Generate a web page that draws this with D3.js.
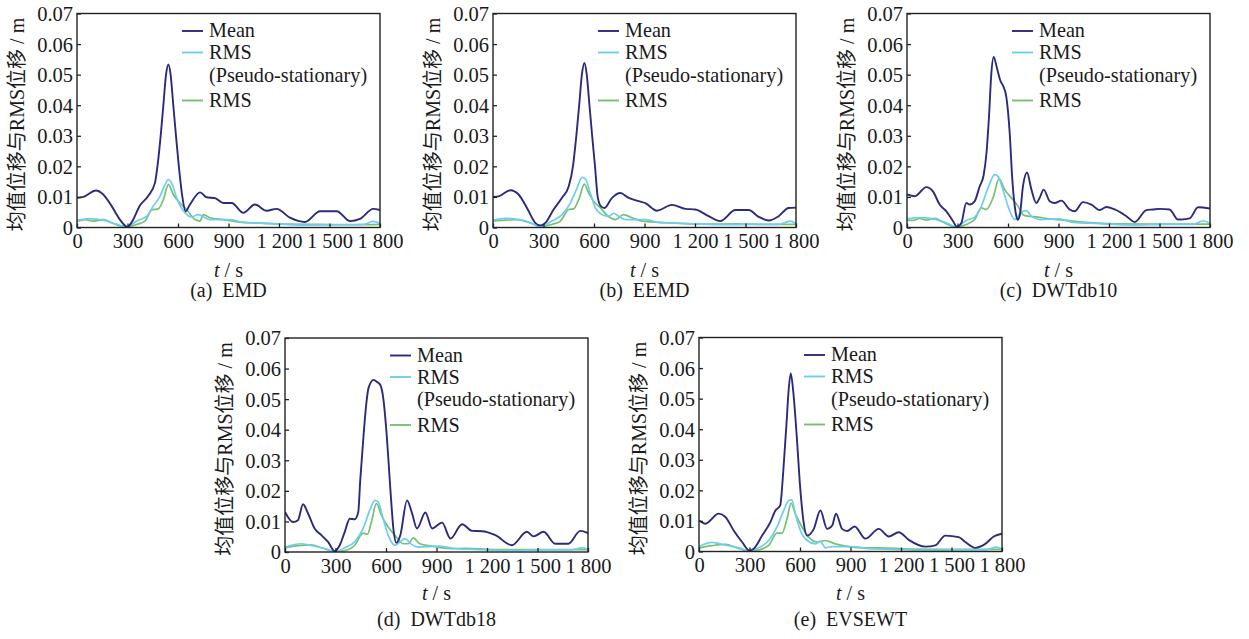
<!DOCTYPE html>
<html><head><meta charset="utf-8">
<script src="https://cdn.jsdelivr.net/npm/d3@7"></script>
<style>
html,body{margin:0;padding:0;background:#fff;}
svg{display:block;}
text{font-family:"Liberation Serif","Noto Sans CJK SC",serif;fill:#1a1a1a;}
</style></head>
<body>
<svg id="chart" width="1249" height="639"></svg>
<script>
// ---------- data ----------
const seriesNames = ["Mean", "RMS", "(Pseudo-stationary)", "RMS"];
const xTickValues = [0, 300, 600, 900, 1200, 1500, 1800];
const xTickLabels = ["0", "300", "600", "900", "1 200", "1 500", "1 800"];
const yTickValues = [0, 0.01, 0.02, 0.03, 0.04, 0.05, 0.06, 0.07];
const yTickLabels = ["0", "0.01", "0.02", "0.03", "0.04", "0.05", "0.06", "0.07"];
const captions = ["(a)  EMD", "(b)  EEMD", "(c)  DWTdb10", "(d)  DWTdb18", "(e)  EVSEWT"];

const emdMean = [[0,0.0097],[38,0.0100],[113,0.0121],[156,0.0108],[206,0.0070],[255,0.0026],[299,0.0002],[325,0.0017],[374,0.0072],[424,0.0104],[463,0.0146],[480,0.0210],[497,0.0300],[513,0.0400],[529,0.0500],[543,0.0533],[556,0.0500],[572,0.0400],[588,0.0300],[605,0.0200],[626,0.0100],[645,0.0053],[671,0.0075],[731,0.0115],[770,0.0099],[820,0.0096],[869,0.0080],[919,0.0080],[988,0.0048],[1057,0.0075],[1127,0.0055],[1186,0.0061],[1265,0.0032],[1354,0.0018],[1444,0.0053],[1543,0.0053],[1622,0.0021],[1681,0.0028],[1760,0.0061],[1800,0.0057]];
const emdRmsPs = [[0,0.0023],[77,0.0029],[156,0.0024],[236,0.0010],[299,0.0002],[354,0.0021],[414,0.0037],[453,0.0070],[493,0.0102],[523,0.0140],[543,0.0157],[562,0.0146],[592,0.0097],[642,0.0048],[681,0.0035],[721,0.0042],[750,0.0035],[790,0.0026],[909,0.0026],[988,0.0017],[1147,0.0013],[1345,0.0008],[1543,0.0009],[1701,0.0010],[1760,0.0020],[1800,0.0013]];
const emdRms = [[0,0.0020],[48,0.0026],[97,0.0021],[156,0.0026],[216,0.0013],[295,0.0002],[354,0.0010],[404,0.0021],[444,0.0057],[483,0.0061],[513,0.0091],[543,0.0140],[572,0.0108],[612,0.0080],[651,0.0059],[701,0.0026],[731,0.0021],[750,0.0042],[790,0.0032],[869,0.0026],[988,0.0017],[1067,0.0015],[1245,0.0011],[1444,0.0010],[1642,0.0009],[1800,0.0010]];

const eemdMean = [[0,0.0100],[34,0.0102],[103,0.0122],[152,0.0108],[202,0.0064],[251,0.0015],[281,0.0007],[311,0.0015],[360,0.0059],[410,0.0097],[450,0.0135],[475,0.0200],[495,0.0300],[512,0.0400],[528,0.0500],[543,0.0538],[557,0.0500],[573,0.0400],[589,0.0300],[606,0.0200],[622,0.0100],[640,0.0070],[662,0.0064],[707,0.0097],[756,0.0113],[806,0.0097],[865,0.0086],[905,0.0080],[974,0.0055],[1063,0.0074],[1143,0.0061],[1202,0.0059],[1281,0.0037],[1350,0.0021],[1440,0.0057],[1519,0.0057],[1578,0.0035],[1638,0.0023],[1697,0.0037],[1756,0.0064],[1800,0.0065]];
const eemdRmsPs = [[0,0.0024],[73,0.0030],[152,0.0026],[232,0.0013],[281,0.0002],[350,0.0021],[410,0.0042],[459,0.0080],[499,0.0129],[529,0.0164],[549,0.0159],[578,0.0113],[608,0.0064],[648,0.0042],[687,0.0037],[717,0.0046],[747,0.0037],[786,0.0026],[905,0.0026],[984,0.0017],[1143,0.0013],[1341,0.0009],[1539,0.0010],[1697,0.0010],[1766,0.0021],[1800,0.0013]];
const eemdRms = [[0,0.0021],[73,0.0024],[152,0.0026],[212,0.0017],[281,0.0004],[350,0.0010],[400,0.0021],[450,0.0059],[479,0.0061],[509,0.0091],[543,0.0142],[568,0.0113],[598,0.0086],[638,0.0064],[687,0.0035],[727,0.0026],[776,0.0042],[826,0.0032],[885,0.0021],[984,0.0017],[1063,0.0015],[1242,0.0011],[1440,0.0012],[1638,0.0010],[1800,0.0010]];

const db10Mean = [[0,0.0108],[46,0.0102],[115,0.0132],[154,0.0118],[194,0.0075],[234,0.0053],[273,0.0021],[297,0.0002],[323,0.0015],[352,0.0080],[372,0.0075],[402,0.0086],[432,0.0135],[455,0.0170],[472,0.0243],[487,0.0362],[501,0.0504],[515,0.0558],[535,0.0520],[555,0.0480],[572,0.0462],[590,0.0427],[610,0.0310],[626,0.0154],[645,0.0050],[657,0.0025],[670,0.0040],[689,0.0135],[713,0.0180],[739,0.0124],[768,0.0080],[788,0.0097],[812,0.0124],[848,0.0086],[877,0.0080],[917,0.0088],[966,0.0059],[996,0.0053],[1046,0.0083],[1095,0.0075],[1145,0.0057],[1184,0.0067],[1234,0.0059],[1303,0.0037],[1353,0.0018],[1422,0.0057],[1461,0.0059],[1501,0.0061],[1560,0.0059],[1610,0.0026],[1679,0.0030],[1729,0.0066],[1800,0.0062]];
const db10RmsPs = [[0,0.0028],[75,0.0032],[154,0.0028],[234,0.0015],[293,0.0002],[352,0.0023],[402,0.0034],[442,0.0070],[481,0.0129],[521,0.0173],[541,0.0167],[570,0.0124],[600,0.0070],[640,0.0026],[679,0.0050],[709,0.0055],[739,0.0037],[788,0.0026],[907,0.0028],[986,0.0017],[1145,0.0013],[1343,0.0008],[1541,0.0010],[1699,0.0010],[1762,0.0022],[1800,0.0013]];
const db10Rms = [[0,0.0023],[36,0.0023],[75,0.0030],[115,0.0024],[164,0.0030],[214,0.0017],[293,0.0002],[352,0.0010],[402,0.0026],[442,0.0064],[471,0.0059],[511,0.0097],[547,0.0159],[580,0.0124],[620,0.0097],[659,0.0070],[689,0.0042],[719,0.0037],[768,0.0035],[848,0.0028],[986,0.0021],[1065,0.0017],[1244,0.0012],[1442,0.0011],[1640,0.0011],[1800,0.0011]];

const db18Mean = [[0,0.0131],[48,0.0098],[77,0.0104],[107,0.0156],[137,0.0126],[176,0.0077],[216,0.0055],[256,0.0033],[295,0.0003],[325,0.0022],[355,0.0066],[385,0.0109],[414,0.0107],[435,0.0130],[447,0.0235],[466,0.0377],[482,0.0480],[496,0.0536],[526,0.0563],[550,0.0555],[566,0.0547],[585,0.0498],[605,0.0377],[625,0.0213],[645,0.0071],[662,0.0030],[685,0.0055],[725,0.0169],[755,0.0126],[784,0.0077],[834,0.0129],[874,0.0077],[933,0.0096],[983,0.0044],[1052,0.0091],[1111,0.0069],[1171,0.0068],[1250,0.0055],[1348,0.0022],[1437,0.0066],[1477,0.0051],[1536,0.0066],[1605,0.0027],[1684,0.0027],[1754,0.0069],[1800,0.0062]];
const db18RmsPs = [[0,0.0016],[97,0.0027],[176,0.0019],[256,0.0008],[295,0.0000],[355,0.0014],[414,0.0033],[464,0.0077],[504,0.0137],[534,0.0169],[553,0.0164],[583,0.0109],[613,0.0055],[653,0.0022],[683,0.0033],[712,0.0044],[752,0.0025],[792,0.0016],[911,0.0019],[1010,0.0011],[1149,0.0008],[1348,0.0005],[1546,0.0007],[1704,0.0007],[1768,0.0014],[1800,0.0008]];
const db18Rms = [[0,0.0014],[77,0.0021],[156,0.0023],[216,0.0014],[295,0.0002],[355,0.0005],[414,0.0022],[464,0.0062],[490,0.0058],[513,0.0098],[543,0.0158],[573,0.0120],[613,0.0082],[653,0.0055],[702,0.0027],[732,0.0027],[762,0.0046],[801,0.0027],[871,0.0019],[990,0.0011],[1070,0.0012],[1248,0.0008],[1447,0.0008],[1645,0.0008],[1800,0.0008]];

const evsMean = [[0,0.0102],[38,0.0091],[117,0.0124],[157,0.0113],[206,0.0069],[256,0.0031],[299,0.0003],[325,0.0009],[375,0.0052],[424,0.0096],[454,0.0134],[482,0.0150],[501,0.0265],[521,0.0429],[531,0.0517],[545,0.0582],[561,0.0517],[581,0.0374],[601,0.0210],[620,0.0102],[642,0.0052],[682,0.0074],[721,0.0134],[761,0.0074],[791,0.0085],[814,0.0124],[850,0.0074],[880,0.0067],[925,0.0082],[988,0.0042],[1068,0.0074],[1127,0.0049],[1187,0.0063],[1246,0.0038],[1345,0.0016],[1404,0.0020],[1463,0.0052],[1543,0.0047],[1582,0.0031],[1642,0.0012],[1701,0.0025],[1751,0.0049],[1800,0.0058]];
const evsRmsPs = [[0,0.0016],[77,0.0030],[157,0.0021],[236,0.0012],[299,0.0002],[354,0.0012],[414,0.0036],[463,0.0080],[503,0.0134],[533,0.0167],[552,0.0169],[572,0.0124],[602,0.0069],[642,0.0036],[691,0.0025],[721,0.0033],[751,0.0012],[790,0.0016],[909,0.0016],[1008,0.0009],[1147,0.0007],[1345,0.0004],[1543,0.0005],[1701,0.0005],[1765,0.0014],[1800,0.0008]];
const evsRms = [[0,0.0012],[77,0.0019],[157,0.0023],[226,0.0012],[299,0.0001],[354,0.0005],[414,0.0020],[463,0.0060],[493,0.0060],[523,0.0107],[547,0.0158],[572,0.0124],[612,0.0080],[652,0.0047],[701,0.0031],[751,0.0036],[810,0.0025],[889,0.0016],[988,0.0012],[1068,0.0012],[1246,0.0008],[1444,0.0007],[1642,0.0007],[1800,0.0007]];

// ---------- layout ----------
const colors = {mean: "#2c2a7c", ps: "#6fcdf0", rms: "#74c270"};
const PW = 303, PH = 214;
const panels = [
  {left: 77,  top: 13.5,  cap: captions[0], mean: emdMean,  ps: emdRmsPs,  rms: emdRms,  tsY: 277, capY: 297},
  {left: 493, top: 13.5,  cap: captions[1], mean: eemdMean, ps: eemdRmsPs, rms: eemdRms, tsY: 277, capY: 297},
  {left: 907, top: 13.5,  cap: captions[2], mean: db10Mean, ps: db10RmsPs, rms: db10Rms, tsY: 277, capY: 297},
  {left: 285, top: 338,   cap: captions[3], mean: db18Mean, ps: db18RmsPs, rms: db18Rms, tsY: 600, capY: 626},
  {left: 699, top: 337.5, cap: captions[4], mean: evsMean,  ps: evsRmsPs,  rms: evsRms,  tsY: 600, capY: 626}
];

const svg = d3.select("#chart");
panels.forEach((p, i) => {
  const g = svg.append("g").attr("transform", `translate(${p.left},${p.top})`);
  const x = d3.scaleLinear().domain([0, 1800]).range([0, PW]);
  const y = d3.scaleLinear().domain([0, 0.07]).range([PH, 0]);

  const clipId = "clip" + i;
  g.append("clipPath").attr("id", clipId).append("rect").attr("width", PW).attr("height", PH);

  const line = d3.line().x(d => x(d[0])).y(d => y(d[1])).curve(d3.curveMonotoneX);
  const plot = g.append("g").attr("clip-path", `url(#${clipId})`);
  [["rms", p.rms], ["ps", p.ps], ["mean", p.mean]].forEach(([k, data]) => {
    plot.append("path").datum(data).attr("d", line)
      .attr("fill", "none").attr("stroke", colors[k])
      .attr("stroke-width", k === "mean" ? 1.9 : 1.7)
      .attr("stroke-linejoin", "round");
  });

  // axes (ticks inward)
  const yAxis = d3.axisLeft(y).tickValues(yTickValues).tickFormat((d, j) => yTickLabels[j])
    .tickSizeInner(-4).tickSizeOuter(0).tickPadding(8);
  const ya = g.append("g").call(yAxis);
  ya.select(".domain").remove();
  ya.selectAll("line").attr("stroke", "#222").attr("stroke-width", 1.3);
  ya.selectAll("text").attr("font-size", 20.5).attr("fill", "#1a1a1a")
    .attr("font-family", "Liberation Serif").attr("dy", "0.34em").attr("x", -4);

  const xAxis = d3.axisBottom(x).tickValues(xTickValues).tickFormat((d, j) => xTickLabels[j])
    .tickSizeInner(-4).tickSizeOuter(0);
  const xa = g.append("g").attr("transform", `translate(0,${PH})`).call(xAxis);
  xa.select(".domain").remove();
  xa.selectAll("line").attr("stroke", "#222").attr("stroke-width", 1.3);
  xa.selectAll("text").attr("font-size", 20.5).attr("fill", "#1a1a1a")
    .attr("font-family", "Liberation Serif").attr("y", 6).attr("dy", "0.71em");

  g.append("rect").attr("width", PW).attr("height", PH)
    .attr("fill", "none").attr("stroke", "#222").attr("stroke-width", 1.4);

  // legend
  const lg = g.append("g").attr("transform", "translate(105,0)");
  const legendRows = [
    {k: "mean", label: seriesNames[0], ly: 17.5, ty: 23.5},
    {k: "ps", label: seriesNames[1], ly: 39, ty: 45.5},
    {k: null, label: seriesNames[2], ly: 0, ty: 68},
    {k: "rms", label: seriesNames[3], ly: 87, ty: 93.5}
  ];
  legendRows.forEach(r => {
    if (r.k) lg.append("line").attr("x1", 0).attr("x2", 21).attr("y1", r.ly).attr("y2", r.ly)
      .attr("stroke", colors[r.k]).attr("stroke-width", 1.9);
    lg.append("text").attr("x", 27).attr("y", r.ty).attr("font-size", 20.2).text(r.label);
  });

  // y label
  svg.append("text")
    .attr("transform", `translate(${p.left - 53},${p.top + PH / 2 + 4}) rotate(-90)`)
    .attr("text-anchor", "middle").attr("font-size", 20)
    .text("均值位移与RMS位移 / m");

  // x label
  const xt = svg.append("text").attr("x", p.left + PW / 2).attr("y", p.tsY)
    .attr("text-anchor", "middle").attr("font-size", 20).style("white-space", "pre");
  xt.append("tspan").attr("font-style", "italic").text("t");
  xt.append("tspan").text(" / s");

  svg.append("text").attr("x", p.left + PW / 2).attr("y", p.capY)
    .attr("text-anchor", "middle").attr("font-size", 20).style("white-space", "pre")
    .text(p.cap);
});
</script>
</body></html>
